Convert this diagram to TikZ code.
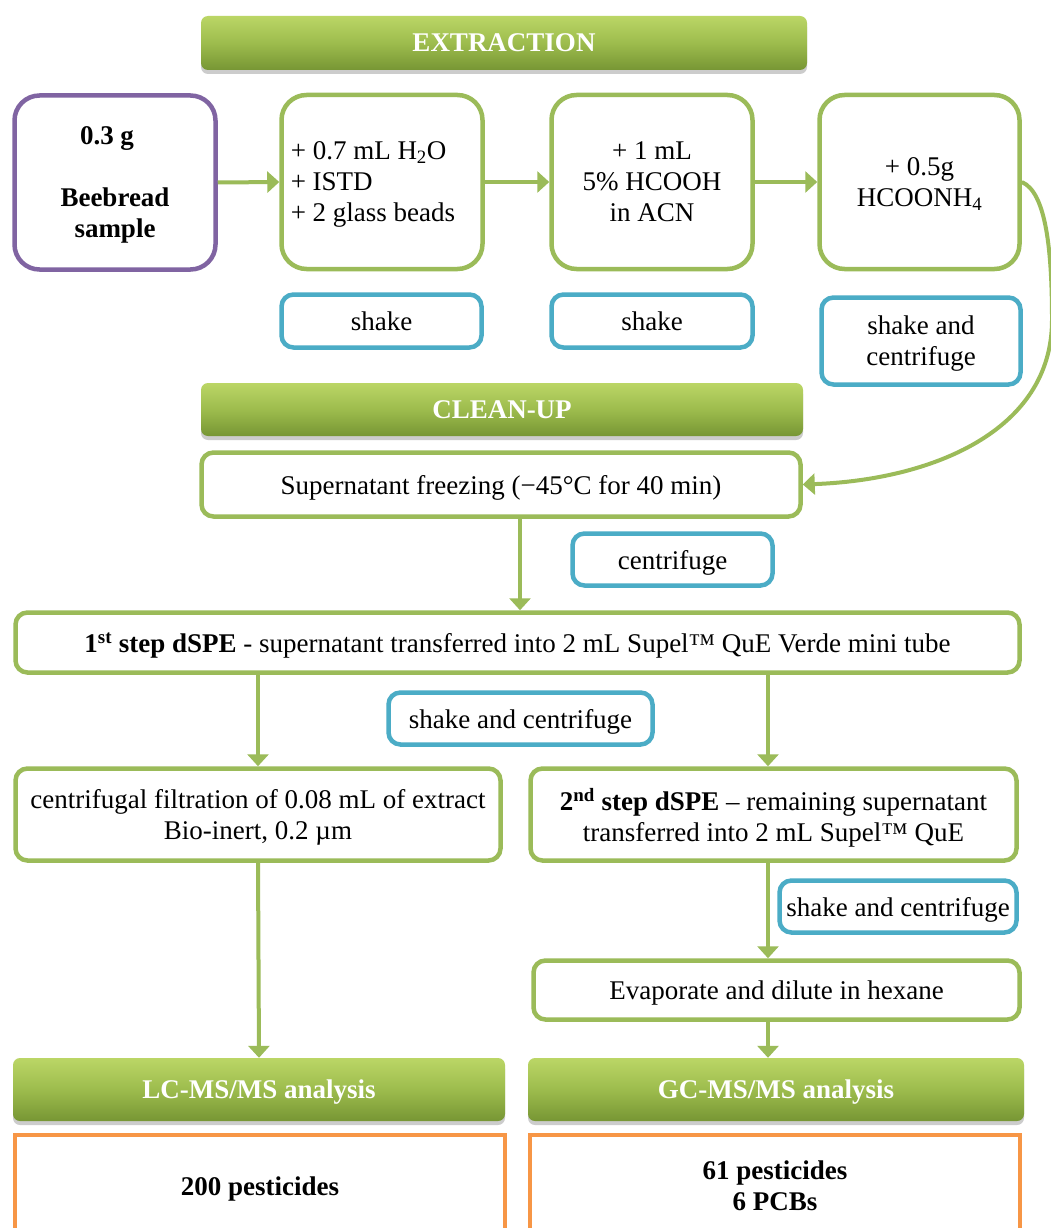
\documentclass[tikz,border=0pt]{standalone}
\usepackage{fontspec}
\setmainfont{Liberation Serif}
\usetikzlibrary{arrows.meta,shadows}
\definecolor{gboxc}{HTML}{9BBB59}
\definecolor{pboxc}{HTML}{8064A2}
\definecolor{bboxc}{HTML}{4BACC6}
\definecolor{oboxc}{HTML}{F79646}
\definecolor{barTop}{HTML}{BBD666}
\definecolor{barMid}{HTML}{9DBC4D}
\definecolor{barBot}{HTML}{779634}
\newcommand{\fs}{\fontsize{27}{31}\selectfont}
\begin{document}
\begin{tikzpicture}[x=1pt,y=-1pt,font=\fs,
  every node/.style={text depth=0pt},
  gb/.style={draw=gboxc, line width=4.5pt, rounded corners=12pt, fill=white, align=center, inner sep=0pt},
  gbig/.style={gb, rounded corners=25pt},
  bb/.style={draw=bboxc, line width=4.5pt, rounded corners=12pt, fill=white, align=center, inner sep=0pt},
  bar/.style={rounded corners=7pt, top color=barTop, bottom color=barBot, middle color=barMid, text=white, font=\fs\bfseries, inner sep=0pt,
    drop shadow={shadow xshift=0pt, shadow yshift=-4pt, opacity=0.4}},
  ob/.style={draw=oboxc, line width=4pt, fill=white, align=center, font=\fs\bfseries, inner sep=0pt},
  arr/.style={draw=gboxc, line width=4pt, -{Triangle[width=21pt,length=12pt]}}]
\useasboundingbox (0,0) rectangle (1051,1228);
\clip (0,0) rectangle (1051,1228);
\fill[white] (0,0) rectangle (1051,1228);

% section bars
\node[bar, minimum width=606pt, minimum height=54pt] (ext) at (504,43) {EXTRACTION};
\node[bar, minimum width=602pt, minimum height=53pt] (clean) at (502,409.5) {CLEAN-UP};

% extraction boxes
\node[gbig, draw=pboxc, font=\fs\bfseries, minimum width=201pt, minimum height=174pt] (b1) at (115,182.5)
  {\hspace*{-16pt}0.3 g\\[31pt]Beebread\\sample};
\node[gbig, minimum width=201pt, minimum height=174pt, align=left] (b2) at (382,182)
  {+ 0.7 mL H\textsubscript{2}O\\+ ISTD\\+ 2 glass beads\hspace*{18pt}};
\node[gbig, minimum width=201pt, minimum height=174pt] (b3) at (652,182)
  {+ 1 mL\\5\% HCOOH\\in ACN};
\node[gbig, minimum width=200pt, minimum height=174pt] (b4) at (919.5,182)
  {+ 0.5g\\HCOONH\textsubscript{4}};

\node[bb, minimum width=200pt, minimum height=53pt] (s1) at (381.5,321) {shake};
\node[bb, minimum width=201pt, minimum height=53pt] (s2) at (652,321) {shake};
\node[bb, minimum width=199pt, minimum height=87pt] (s3) at (921,341) {shake and\\centrifuge};

% clean-up
\node[gb, minimum width=599pt, minimum height=64pt] (freeze) at (501,484.5)
  {Supernatant freezing (−45°C for 40 min)};
\node[bb, minimum width=200pt, minimum height=52pt] (cf) at (672.5,559.5) {centrifuge};
\node[gb, minimum width=1004pt, minimum height=60pt] (dspe1) at (517.5,642.5)
  {\textbf{1\textsuperscript{st} step dSPE} - supernatant transferred into 2 mL Supel™ QuE Verde mini tube};
\node[bb, minimum width=264pt, minimum height=52pt] (sc1) at (520.5,718.5) {shake and centrifuge};
\node[gb, minimum width=485pt, minimum height=92pt] (filt) at (258,814.5)
  {centrifugal filtration of 0.08 mL of extract\\Bio-inert, 0.2 µm};
\node[gb, minimum width=486pt, minimum height=92pt] (dspe2) at (773.5,814.5)
  {\textbf{2\textsuperscript{nd} step dSPE} – remaining supernatant\\transferred into 2 mL Supel™ QuE};
\node[bb, minimum width=237pt, minimum height=52pt] (sc2) at (898,906.5) {shake and centrifuge};
\node[gb, minimum width=486pt, minimum height=59pt] (evap) at (776.5,990)
  {Evaporate and dilute in hexane};

\node[bar, minimum width=492pt, minimum height=63pt] (lc) at (259,1089.5) {LC-MS/MS analysis};
\node[bar, minimum width=496pt, minimum height=63pt] (gc) at (776,1089.5) {GC-MS/MS analysis};

\node[ob, minimum width=490pt, minimum height=102pt] (r1) at (260,1186) {200 pesticides};
\node[ob, minimum width=490pt, minimum height=102pt] (r2) at (775,1186) {61 pesticides\\6 PCBs};

% connectors
\draw[arr] (b1.east) -- (b2.west);
\draw[arr] (b2.east) -- (b3.west);
\draw[arr] (b3.east) -- (b4.west);
\draw[arr] (b4.east) .. controls (1046,192) and (1052,250) .. (1052,320)
  .. controls (1052,432) and (930,480) .. (freeze.east);

\coordinate (xa) at (520,0);
\coordinate (xb) at (768,0);
\draw[arr] (freeze.south -| xa) -- (dspe1.north -| xa);
\draw[arr] (dspe1.south -| filt.north) -- (filt.north);
\draw[arr] (dspe1.south -| xb) -- (dspe2.north -| xb);
\draw[arr] (filt.south) -- (lc.north);
\draw[arr] (dspe2.south -| xb) -- (evap.north -| xb);
\draw[arr] (evap.south -| xb) -- (gc.north -| xb);
\end{tikzpicture}
\end{document}
